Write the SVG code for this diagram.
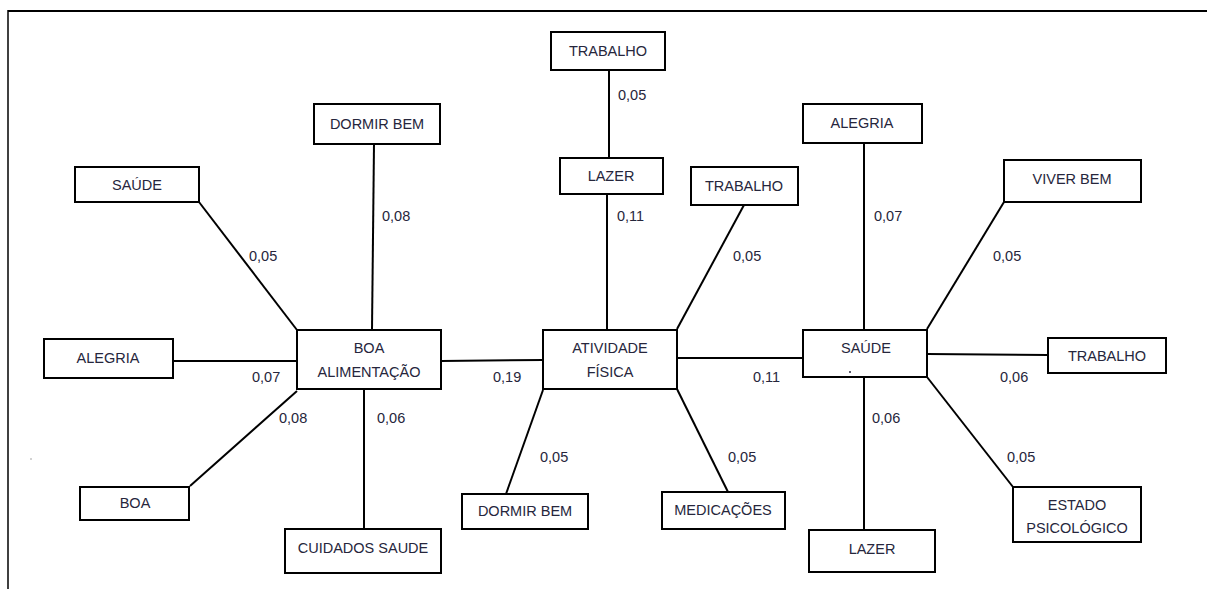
<svg xmlns="http://www.w3.org/2000/svg" width="1207" height="589" viewBox="0 0 1207 589">
<style>
.box{fill:#fff;stroke:#000;stroke-width:2}
.t{font-family:"Liberation Sans",Arial,sans-serif;font-size:14.5px;fill:#26263c;text-anchor:middle}
.l{font-family:"Liberation Sans",Arial,sans-serif;font-size:14.5px;fill:#26263c}
.c line{stroke:#000;stroke-width:2}
</style>
<rect width="1207" height="589" fill="#fff"/>
<g id="frame" stroke="#000">
<line x1="8" y1="11" x2="1207" y2="11" stroke-width="2"/>
<line x1="8" y1="10" x2="8" y2="589" stroke-width="1.5"/>
</g>
<g class="c" id="connectors">
<line x1="199" y1="202" x2="297" y2="330"/>
<line x1="374" y1="144" x2="372" y2="330"/>
<line x1="173" y1="361" x2="297" y2="361"/>
<line x1="190" y1="486" x2="297" y2="391"/>
<line x1="364" y1="389" x2="364" y2="529"/>
<line x1="441" y1="361" x2="543" y2="360"/>
<line x1="609" y1="70" x2="609" y2="158"/>
<line x1="607" y1="194" x2="607" y2="330"/>
<line x1="744" y1="205" x2="677" y2="329"/>
<line x1="543" y1="390" x2="506" y2="494"/>
<line x1="677" y1="389" x2="728" y2="492"/>
<line x1="677" y1="358" x2="803" y2="358"/>
<line x1="864" y1="143" x2="864" y2="330"/>
<line x1="1004" y1="202" x2="927" y2="329"/>
<line x1="927" y1="354" x2="1048" y2="355"/>
<line x1="927" y1="377" x2="1013" y2="487"/>
<line x1="864" y1="377" x2="864" y2="530"/>
</g>
<g id="labels">
<text class="l" x="249" y="261">0,05</text>
<text class="l" x="382" y="221">0,08</text>
<text class="l" x="252" y="382">0,07</text>
<text class="l" x="279" y="423">0,08</text>
<text class="l" x="377" y="423">0,06</text>
<text class="l" x="618" y="100">0,05</text>
<text class="l" x="617" y="221">0,11</text>
<text class="l" x="733" y="261">0,05</text>
<text class="l" x="493" y="382">0,19</text>
<text class="l" x="753" y="382">0,11</text>
<text class="l" x="540" y="462">0,05</text>
<text class="l" x="728" y="462">0,05</text>
<text class="l" x="874" y="221">0,07</text>
<text class="l" x="993" y="261">0,05</text>
<text class="l" x="1000" y="382">0,06</text>
<text class="l" x="872" y="423">0,06</text>
<text class="l" x="1007" y="462">0,05</text>
</g>
<g id="n-saude-l"><rect class="box" x="75" y="167" width="124" height="35"/><text class="t" x="137" y="190">SAÚDE</text></g>
<g id="n-dormir-top"><rect class="box" x="314" y="104" width="126" height="40"/><text class="t" x="377" y="129">DORMIR BEM</text></g>
<g id="n-alegria-l"><rect class="box" x="44" y="339" width="129" height="39"/><text class="t" x="108" y="363">ALEGRIA</text></g>
<g id="n-boa-alim"><rect class="box" x="297" y="330" width="144" height="59"/><text class="t" x="369" y="353">BOA</text><text class="t" x="369" y="377">ALIMENTAÇÃO</text></g>
<g id="n-boa"><rect class="box" x="80" y="487" width="109" height="33"/><text class="t" x="135" y="508">BOA</text></g>
<g id="n-cuidados"><rect class="box" x="285" y="529" width="156" height="44"/><text class="t" x="363" y="553">CUIDADOS SAUDE</text></g>
<g id="n-trabalho-top"><rect class="box" x="551" y="32" width="114" height="38"/><text class="t" x="608" y="56">TRABALHO</text></g>
<g id="n-lazer-top"><rect class="box" x="560" y="158" width="103" height="36"/><text class="t" x="611" y="181">LAZER</text></g>
<g id="n-trabalho-mid"><rect class="box" x="691" y="167" width="107" height="38"/><text class="t" x="744" y="191">TRABALHO</text></g>
<g id="n-atividade"><rect class="box" x="543" y="330" width="134" height="59"/><text class="t" x="610" y="353">ATIVIDADE</text><text class="t" x="610" y="377">FÍSICA</text></g>
<g id="n-dormir-bot"><rect class="box" x="462" y="494" width="126" height="35"/><text class="t" x="525" y="516">DORMIR BEM</text></g>
<g id="n-medicacoes"><rect class="box" x="662" y="492" width="123" height="37"/><text class="t" x="723" y="515">MEDICAÇÕES</text></g>
<g id="n-alegria-r"><rect class="box" x="803" y="104" width="119" height="39"/><text class="t" x="862" y="128">ALEGRIA</text></g>
<g id="n-viver"><rect class="box" x="1004" y="160" width="137" height="42"/><text class="t" x="1072" y="184">VIVER BEM</text></g>
<g id="n-saude-r"><rect class="box" x="803" y="330" width="124" height="47"/><text class="t" x="866" y="353">SAÚDE</text><circle cx="850" cy="372" r="1" fill="#26263c"/></g>
<g id="n-trabalho-r"><rect class="box" x="1048" y="338" width="118" height="35"/><text class="t" x="1107" y="361">TRABALHO</text></g>
<g id="n-lazer-r"><rect class="box" x="809" y="530" width="126" height="42"/><text class="t" x="872" y="554">LAZER</text></g>
<g id="n-estado"><rect class="box" x="1013" y="487" width="128" height="55"/><text class="t" x="1077" y="510">ESTADO</text><text class="t" x="1077" y="533">PSICOLÓGICO</text></g>
<circle cx="31" cy="459" r="0.8" fill="#999"/>
</svg>
